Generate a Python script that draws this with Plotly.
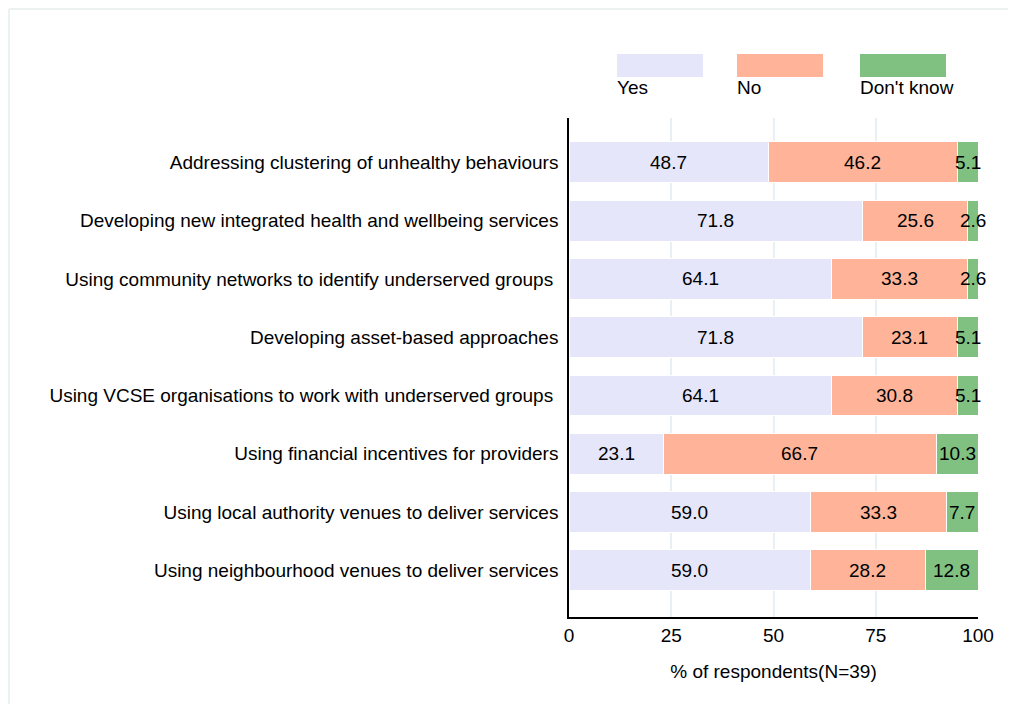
import plotly.graph_objects as go

categories = [
    "Addressing clustering of unhealthy behaviours",
    "Developing new integrated health and wellbeing services",
    "Using community networks to identify underserved groups ",
    "Developing asset-based approaches",
    "Using VCSE organisations to work with underserved groups ",
    "Using financial incentives for providers",
    "Using local authority venues to deliver services",
    "Using neighbourhood venues to deliver services",
]
yes = [48.7, 71.8, 64.1, 71.8, 64.1, 23.1, 59.0, 59.0]
no = [46.2, 25.6, 33.3, 23.1, 30.8, 66.7, 33.3, 28.2]
dont_know = [5.1, 2.6, 2.6, 5.1, 5.1, 10.3, 7.7, 12.8]
series_names = ["Yes", "No", "Don't know"]
colors = ["#E6E6FA", "#FFB499", "#80C080"]
x_ticks = [0, 25, 50, 75, 100]

FONT = "Liberation Sans, Arial, sans-serif"
FS = 19
OFF = 8  # page body margin

fig = go.Figure()
annotations = []
series = [yes, no, dont_know]
for name, vals, col in zip(series_names, series, colors):
    fig.add_trace(go.Bar(
        y=categories, x=vals, name=name, orientation="h",
        marker=dict(color=col, line=dict(color="white", width=1)),
        showlegend=False, hoverinfo="x+y",
    ))

# segment labels centred on each segment
for i, cat in enumerate(categories):
    start = 0.0
    for vals in series:
        v = vals[i]
        annotations.append(dict(text=f"{v:.1f}", x=start + v / 2, y=cat, xref="x", yref="y",
                                showarrow=False, font=dict(family=FONT, size=FS, color="black")))
        start += v

W, H = 1016 - OFF, 704 - OFF
SL, SR, ST, SB = 569, 978, 118, 617
L = SL - OFF
T = ST - OFF
R = W - (SR - OFF)
B = H - (SB - OFF)
pw, ph = SR - SL, SB - ST

def px(x):
    return (x - SL) / pw

def py(y):
    return 1 - (y - ST) / ph

shapes = []
leg_x = [617, 737, 860]
for name, col, lx in zip(series_names, colors, leg_x):
    shapes.append(dict(type="rect", xref="paper", yref="paper",
                       x0=px(lx), x1=px(lx + 86), y0=py(77), y1=py(54),
                       fillcolor=col, line=dict(width=0)))
    annotations.append(dict(text=name, xref="paper", yref="paper",
                            x=px(lx - 2), y=py(88), xanchor="left", yanchor="middle",
                            showarrow=False, font=dict(family=FONT, size=FS, color="black")))
border = dict(color="#e6eeee", width=1.5)
shapes.append(dict(type="line", xref="paper", yref="paper",
                   x0=px(9), x1=px(1030), y0=py(9), y1=py(9), line=border, layer="below"))
shapes.append(dict(type="line", xref="paper", yref="paper",
                   x0=px(9), x1=px(9), y0=py(9), y1=py(720), line=border, layer="below"))

fig.update_layout(
    barmode="stack", bargap=0.3,
    width=W, height=H,
    margin=dict(l=L, r=R, t=T, b=B),
    paper_bgcolor="white", plot_bgcolor="white",
    font=dict(family=FONT, size=FS, color="black"),
    shapes=shapes, annotations=annotations,
    xaxis=dict(range=[0, 100], tickvals=x_ticks, showgrid=True, gridcolor="#e8f0f4",
               gridwidth=1.5, zeroline=False, showline=True, linecolor="black", linewidth=1.5,
               ticks="", tickfont=dict(size=FS),
               title=dict(text="% of respondents(N=39)", font=dict(size=FS), standoff=20)),
    yaxis=dict(categoryorder="array", categoryarray=categories,
               range=[7.8, -0.76], showline=True, linecolor="black", linewidth=1.5,
               showgrid=False, ticks="", ticklabelstandoff=5, tickfont=dict(size=FS)),
)

fig.write_html("out.html")
